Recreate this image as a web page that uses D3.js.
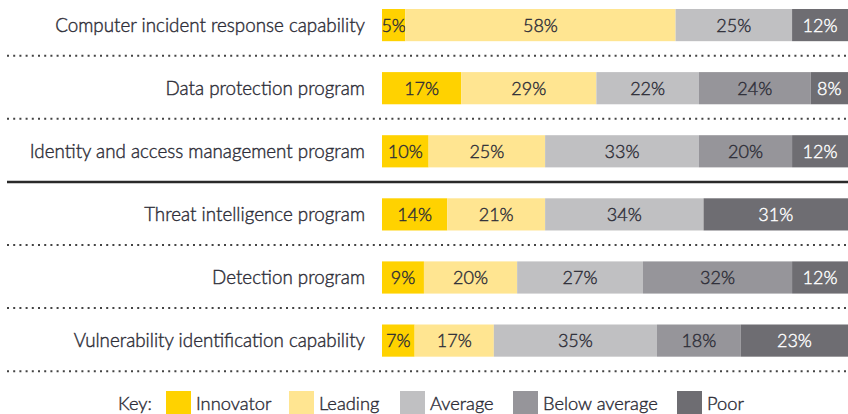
<!DOCTYPE html>
<html><head><meta charset="utf-8">
<script src="https://cdn.jsdelivr.net/npm/d3@7/dist/d3.min.js"></script>
<style>
html,body{margin:0;padding:0;background:#fff;}
svg{display:block;}
text{font-family:Lato, "Open Sans", sans-serif;font-weight:300;stroke-width:0.4px;}
</style></head>
<body><svg id="c" width="848" height="414"></svg>
<script>
const categories = [
  "Computer incident response capability",
  "Data protection program",
  "Identity and access management program",
  "Threat intelligence program",
  "Detection program",
  "Vulnerability identification capability"
];
const seriesNames = ["Innovator","Leading","Average","Below average","Poor"];
const innovator    = [5, 17, 10, 14, 9, 7];
const leading      = [58, 29, 25, 21, 20, 17];
const average      = [25, 22, 33, 34, 27, 35];
const belowAverage = [0, 24, 20, 0, 32, 18];
const poor         = [12, 8, 12, 31, 12, 23];
const colors = ["#FFD200","#FFE591","#C0C0C2","#96959A","#6E6D72"];
const textColors = ["#2e2e38","#2e2e38","#2e2e38","#2e2e38","#fff"];

const rows = categories.map((c,i)=>({cat:c, "Innovator":innovator[i], "Leading":leading[i], "Average":average[i], "Below average":belowAverage[i], "Poor":poor[i]}));
const stack = d3.stack().keys(seriesNames)(rows);

const svg = d3.select("#c");
const x = d3.scaleLinear().domain([0,100]).range([382,848]);
const step = 63.1;
const y = d3.scaleBand().domain(categories)
  .range([9 - 0.245*step, 9 - 0.245*step + 6*step]).paddingInner(0.49).paddingOuter(0.245);
const bh = y.bandwidth();

// separators
categories.forEach((c,i)=>{
  const ly = y(c) + bh + 14.5;
  if (i===2) {
    svg.append("line").attr("x1",7).attr("x2",848).attr("y1",ly).attr("y2",ly)
      .attr("stroke","#2a2a2a").attr("stroke-width",2.5);
  } else {
    svg.append("line").attr("x1",7).attr("x2",848).attr("y1",ly).attr("y2",ly)
      .attr("stroke","#444").attr("stroke-width",2).attr("stroke-dasharray","2 4.2");
  }
});

// category labels
svg.append("g").selectAll("text").data(categories).join("text")
  .attr("x",365).attr("y",d=>y(d)+bh/2).attr("dy","0.35em")
  .attr("text-anchor","end").attr("font-size",18.8).attr("fill","#2e2e38").attr("stroke","#2e2e38")
  .text(d=>d);

// bars
stack.forEach((s,k)=>{
  const g = svg.append("g");
  g.selectAll("rect").data(s.filter(d=>d[1]-d[0]>0)).join("rect")
    .attr("x",d=>x(d[0])).attr("width",d=>x(d[1])-x(d[0]))
    .attr("y",d=>y(d.data.cat)).attr("height",bh)
    .attr("fill",colors[k]);
  g.selectAll("text").data(s.filter(d=>d[1]-d[0]>0)).join("text")
    .attr("x",d=>(x(d[0])+x(d[1]))/2).attr("y",d=>y(d.data.cat)+bh/2).attr("dy","0.36em")
    .attr("text-anchor","middle").attr("font-size",18).attr("fill",textColors[k]).attr("stroke",textColors[k])
    .text(d=>(d[1]-d[0])+"%");
});

// legend
const lg = svg.append("g");
lg.append("text").attr("x",118).attr("y",404).attr("dy","0.35em").attr("font-size",18.3).attr("fill","#2e2e38").attr("stroke","#2e2e38").text("Key:");
const legX = [166, 289, 400, 513, 677];
seriesNames.forEach((n,i)=>{
  lg.append("rect").attr("x",legX[i]).attr("y",391).attr("width",25).attr("height",23).attr("fill",colors[i]);
  lg.append("text").attr("x",legX[i]+30).attr("y",404).attr("dy","0.35em").attr("font-size",18.3).attr("fill","#2e2e38").attr("stroke","#2e2e38").text(n);
});
</script></body></html>
